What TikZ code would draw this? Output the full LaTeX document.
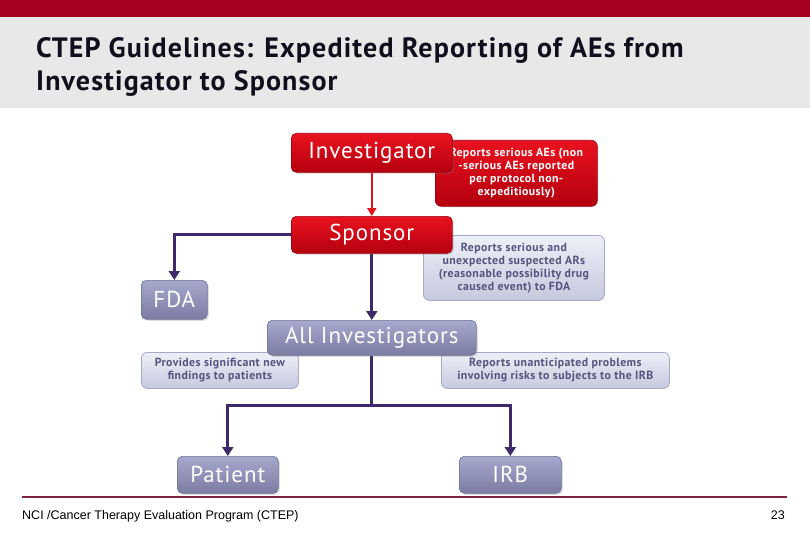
\documentclass[tikz,border=0pt]{standalone}
\usepackage{fontspec}
\setmainfont{PT Sans}
\newfontfamily\footfont{Liberation Sans}
\newfontfamily\titlefont[LetterSpace=4]{PT Sans}
\newfontfamily\nodefont[LetterSpace=4]{PT Sans}
\newfontfamily\callfont[LetterSpace=3.5]{PT Sans}
\usetikzlibrary{arrows.meta,shadows}
\definecolor{barred}{HTML}{A50021}
\definecolor{bandgray}{HTML}{E8E8E8}
\definecolor{titletext}{HTML}{10101C}
\definecolor{redtop}{HTML}{EA1220}
\definecolor{redbot}{HTML}{B4000E}
\definecolor{redline}{HTML}{9A0010}
\definecolor{arrowred}{HTML}{E5101C}
\definecolor{grtop}{HTML}{A6A8CE}
\definecolor{grbot}{HTML}{7A7CA2}
\definecolor{grline}{HTML}{6E7096}
\definecolor{cltop}{HTML}{EEF0F8}
\definecolor{clbot}{HTML}{C6C8DE}
\definecolor{clline}{HTML}{A6A8C6}
\definecolor{cltext}{HTML}{54557E}
\definecolor{conn}{HTML}{3E2A6A}
\definecolor{footred}{HTML}{7E2040}
\tikzset{
  redbox/.style={draw=redline, line width=0.6pt, rounded corners=5pt, shading=axis, top color=redtop, bottom color=redbot,
    text=white, inner sep=0pt, anchor=north west, drop shadow={opacity=0.25, shadow xshift=1.5pt, shadow yshift=-1.5pt}},
  graybox/.style={draw=grline, line width=0.6pt, rounded corners=5pt, shading=axis, top color=grtop, bottom color=grbot,
    text=white, inner sep=0pt, anchor=north west, drop shadow={opacity=0.25, shadow xshift=1.5pt, shadow yshift=-1.5pt}},
  bigtext/.style={font=\nodefont\fontsize{23}{25}\selectfont},
  redcall/.style={draw=redline, line width=0.6pt, rounded corners=6pt, shading=axis, top color=redtop, bottom color=redbot,
    text=white, inner sep=0pt, anchor=north west, align=center, font=\callfont\bfseries\fontsize{11.8}{13}\selectfont,
    drop shadow={opacity=0.2, shadow xshift=1pt, shadow yshift=-1pt}},
  graycall/.style={draw=clline, line width=0.8pt, rounded corners=6pt, shading=axis, top color=cltop, bottom color=clbot,
    text=cltext, inner sep=0pt, anchor=north west, align=center, font=\callfont\bfseries\fontsize{11.8}{13}\selectfont},
  redarrow/.style={draw=arrowred, line width=2pt, -{Triangle[length=8pt,width=9pt]}},
  connline/.style={draw=conn, line width=3pt},
  connarrow/.style={connline, -{Triangle[length=9pt,width=11pt]}},
  titlestyle/.style={anchor=base west, inner sep=0pt, text=titletext, font=\titlefont\bfseries\fontsize{28}{33}\selectfont},
  footstyle/.style={inner sep=0pt, font=\footfont\fontsize{12.5}{14}\selectfont},
}
\begin{document}
\begin{tikzpicture}[x=1pt,y=-1pt]
\useasboundingbox (0,0) rectangle (810,540);
\fill[barred] (0,0) rectangle (810,17);
\fill[bandgray] (0,17) rectangle (810,108);
\node[titlestyle] (title1) at (36,58) {CTEP Guidelines: Expedited Reporting of AEs from};
\node[titlestyle] (title2) at (36,91) {Investigator to Sponsor};

% callouts (behind)
\node[redcall, minimum width=162pt, minimum height=66pt] (rc) at (435,140) {Reports serious AEs (non\\-serious AEs reported\\per protocol non-\\expeditiously)};
\node[graycall, minimum width=181pt, minimum height=65pt] (gc) at (423,235) {Reports serious and\\unexpected suspected ARs\\(reasonable possibility drug\\caused event) to FDA};
\node[graycall, minimum width=157pt, minimum height=36pt] (lc) at (141,352) {Provides significant new\\findings to patients};
\node[graycall, minimum width=228pt, minimum height=36pt] (rc2) at (441,352) {Reports unanticipated problems\\involving risks to subjects to the IRB};

% main nodes
\node[redbox, bigtext, minimum width=161pt, minimum height=39pt] (inv) at (291,133) {Investigator};
\node[redbox, bigtext, minimum width=161pt, minimum height=37pt] (spon) at (291,216) {Sponsor};
\node[graybox, bigtext, minimum width=66pt, minimum height=39pt] (fda) at (141,280) {FDA};
\node[graybox, bigtext, minimum width=209pt, minimum height=35pt] (allinv) at (267,320) {All Investigators};
\node[graybox, bigtext, minimum width=101pt, minimum height=37pt] (pat) at (177,456) {Patient};
\node[graybox, bigtext, minimum width=102pt, minimum height=37pt] (irb) at (459,456) {IRB};

% connectors
\draw[redarrow] (inv.south) -- (spon.north);
\draw[connarrow] (spon.west) -| (fda.north);
\draw[connarrow] (spon.south) -- (allinv.north);
\coordinate (split) at (allinv.south |- 0,405);
\draw[connline] (allinv.south) -- (split);
\draw[connarrow] (split) -| (pat.north);
\draw[connarrow] (split) -| (irb.north);

% footer
\draw[footred, line width=2pt] (22,497) -- (787,497);
\node[footstyle, anchor=base west] (foot) at (22,519) {NCI /Cancer Therapy Evaluation Program (CTEP)};
\node[footstyle, anchor=base east] (pg) at (785,519) {23};
\end{tikzpicture}
\end{document}
